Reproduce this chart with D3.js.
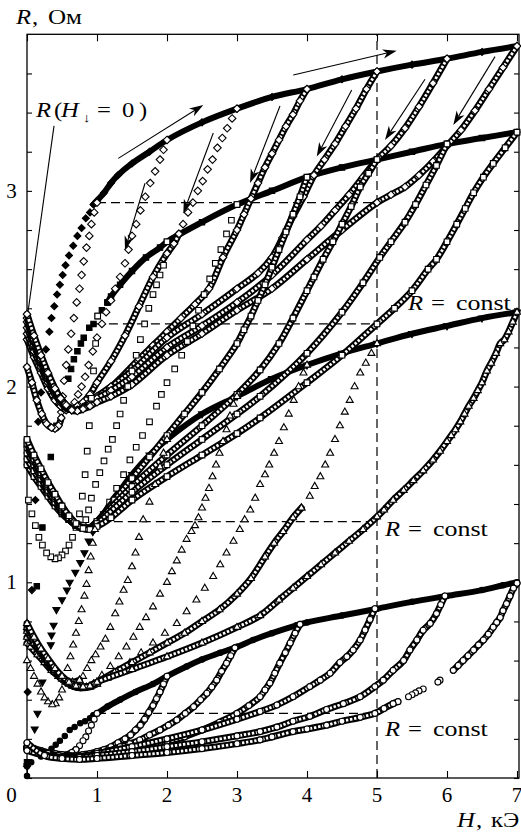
<!DOCTYPE html>
<html>
<head>
<meta charset="utf-8">
<script src="https://cdn.jsdelivr.net/npm/d3@7"></script>
<style>
html,body{margin:0;padding:0;background:#fff;}
svg{display:block;}
text{font-family:"Liberation Serif","Times New Roman",serif;fill:#000;}
</style>
</head>
<body>
<svg id="chart" width="521" height="836"></svg>
<script>
// ---------- tick labels ----------
const xTickLabels = ["0","1","2","3","4","5","6","7"];
const yTickLabels = ["1","2","3"];

// ---------- group A (diamonds) : R(H) in Ohm, H in kOe ----------
const mainA_start = [[0,0.06],[0.01,0.44],[0.07,0.96],[0.12,1.42],[0.16,1.82],[0.2,1.97],[0.27,2.19],[0.32,2.28],[0.35,2.35],[0.39,2.41],[0.43,2.47],[0.47,2.52],[0.51,2.57],[0.55,2.62],[0.6,2.67],[0.66,2.72],[0.72,2.77],[0.78,2.81],[0.84,2.86],[0.9,2.89]];
const mainA = [[0.95,2.93],[1,2.95],[1.1,2.99],[1.2,3.04],[1.3,3.08],[1.5,3.14],[1.75,3.2],[2,3.26],[2.5,3.35],[3,3.42],[3.5,3.48],[4,3.52],[4.5,3.57],[5,3.61],[5.5,3.645],[6,3.675],[6.5,3.71],[7,3.74]];
const retA1_drop = [[1,2.94],[0.96,2.89],[0.92,2.83],[0.89,2.77],[0.85,2.71],[0.81,2.64],[0.78,2.57],[0.75,2.5],[0.71,2.43],[0.67,2.35],[0.63,2.27],[0.59,2.19],[0.56,2.11],[0.53,2.03],[0.51,1.95],[0.49,1.87]];
const retA1_loop = [[0.49,1.84],[0.45,1.8],[0.4,1.785],[0.35,1.79],[0.28,1.81],[0.21,1.86],[0.14,1.93],[0.07,2.02],[0,2.1]];
const retA2_drop = [[2,3.26],[1.95,3.21],[1.9,3.16],[1.83,3.1],[1.76,3.04],[1.69,2.97],[1.62,2.9],[1.56,2.83],[1.5,2.77],[1.45,2.7],[1.4,2.63],[1.33,2.56],[1.26,2.5],[1.2,2.44],[1.13,2.38],[1.07,2.32],[1,2.25],[0.94,2.18],[0.88,2.11],[0.83,2.05],[0.78,2],[0.73,1.96],[0.68,1.92],[0.62,1.89]];
const retA2_loop = [[0.62,1.89],[0.56,1.88],[0.48,1.9],[0.4,1.93],[0.3,1.99],[0.2,2.07],[0.1,2.15],[0,2.24]];
const retA3_drop = [[3,3.42],[2.93,3.37],[2.86,3.32],[2.79,3.27],[2.72,3.22],[2.65,3.16],[2.58,3.11],[2.51,3.05],[2.44,3],[2.37,2.94],[2.3,2.89],[2.23,2.83],[2.17,2.78]];
const retA3 = [[2.17,2.78],[2.1,2.73],[2,2.68],[1.8,2.56],[1.6,2.41],[1.4,2.26],[1.2,2.13],[1,2.02],[0.9,1.96],[0.8,1.92],[0.72,1.9],[0.64,1.885],[0.56,1.89],[0.48,1.92],[0.4,1.96],[0.3,2.02],[0.2,2.1],[0.1,2.18],[0,2.27]];
const retA4 = [[4,3.52],[3.9,3.46],[3.8,3.39],[3.7,3.33],[3.6,3.26],[3.5,3.19],[3.4,3.12],[3.3,3.04],[3.2,2.96],[3.1,2.88],[3,2.8],[2.8,2.66],[2.6,2.5],[2.4,2.42],[2.2,2.35],[2,2.28],[1.8,2.21],[1.6,2.14],[1.3,2.03],[1,1.93],[0.9,1.91],[0.8,1.89],[0.72,1.88],[0.64,1.88],[0.56,1.895],[0.48,1.93],[0.4,1.97],[0.3,2.04],[0.2,2.12],[0.1,2.21],[0,2.3]];
const retA5 = [[5,3.61],[4.85,3.52],[4.7,3.42],[4.55,3.33],[4.4,3.24],[4.25,3.16],[4.1,3.08],[3.95,2.97],[3.8,2.87],[3.65,2.76],[3.5,2.66],[3.3,2.58],[3,2.5],[2.5,2.37],[2,2.25],[1.5,2.08],[1.2,2],[1,1.95],[0.9,1.92],[0.8,1.895],[0.72,1.88],[0.64,1.88],[0.56,1.9],[0.48,1.935],[0.4,1.98],[0.3,2.05],[0.2,2.13],[0.1,2.23],[0,2.33]];
const retA6 = [[6,3.675],[5.8,3.55],[5.6,3.43],[5.4,3.32],[5.2,3.23],[5,3.16],[4.8,3.07],[4.6,2.98],[4.4,2.9],[4.2,2.82],[4,2.75],[3.5,2.57],[3,2.43],[2.5,2.31],[2,2.2],[1.5,2.05],[1.2,1.98],[1,1.94],[0.9,1.91],[0.8,1.89],[0.72,1.88],[0.64,1.885],[0.56,1.905],[0.48,1.94],[0.4,1.985],[0.3,2.06],[0.2,2.14],[0.1,2.24],[0,2.35]];
const retA7 = [[7,3.74],[6.8,3.63],[6.6,3.52],[6.4,3.41],[6.2,3.31],[6,3.23],[5.8,3.15],[5.6,3.08],[5.4,3.02],[5.2,2.98],[5,2.94],[4.5,2.8],[4,2.65],[3.5,2.5],[3,2.39],[2.5,2.27],[2,2.16],[1.5,2.01],[1.2,1.95],[1,1.92],[0.9,1.9],[0.8,1.885],[0.72,1.875],[0.64,1.88],[0.56,1.905],[0.48,1.94],[0.4,1.99],[0.3,2.07],[0.2,2.16],[0.1,2.26],[0,2.37]];

// ---------- group B (squares) ----------
const mainB_start = [[0,0.08],[0.14,0.98],[0.22,1.28],[0.29,1.5],[0.34,1.64],[0.42,1.8],[0.5,1.93],[0.59,2.04],[0.63,2.09],[0.67,2.14],[0.72,2.18],[0.77,2.22],[0.81,2.25],[0.89,2.3],[0.95,2.32],[1.01,2.36],[1.07,2.39],[1.15,2.43]];
const mainB = [[1.15,2.43],[1.2,2.46],[1.33,2.52],[1.5,2.59],[1.7,2.66],[1.9,2.71],[2,2.74],[2.5,2.84],[3,2.93],[3.5,3],[4,3.07],[4.5,3.12],[5,3.16],[5.5,3.2],[6,3.24],[6.5,3.27],[7,3.3]];
const retB1 = [[1.01,2.36],[0.98,2.22],[0.95,2.08],[0.92,1.94],[0.89,1.8],[0.86,1.67],[0.83,1.55],[0.79,1.44],[0.75,1.35],[0.7,1.28],[0.65,1.23],[0.6,1.19],[0.55,1.16],[0.5,1.14],[0.45,1.125],[0.4,1.12],[0.34,1.13],[0.28,1.15],[0.22,1.19],[0.17,1.23],[0.12,1.29],[0.07,1.35],[0.02,1.42]];
const retB2_drop = [[2,2.74],[1.95,2.62],[1.9,2.57],[1.85,2.52],[1.8,2.47],[1.74,2.4],[1.68,2.32],[1.62,2.24],[1.56,2.16],[1.5,2.08],[1.44,2],[1.38,1.93],[1.33,1.86],[1.28,1.8],[1.22,1.73],[1.16,1.68],[1.1,1.62],[1.04,1.56],[0.98,1.5],[0.92,1.43],[0.88,1.37],[0.84,1.32],[0.8,1.29]];
const retB2_loop = [[0.8,1.29],[0.7,1.3],[0.6,1.32],[0.5,1.35],[0.4,1.39],[0.3,1.44],[0.2,1.49],[0.1,1.54],[0,1.6]];
const retB3_drop = [[3,2.93],[2.92,2.85],[2.85,2.78],[2.77,2.7],[2.69,2.63],[2.61,2.55],[2.53,2.47],[2.45,2.39],[2.37,2.31],[2.29,2.23],[2.21,2.16],[2.11,2.09],[2,2.02],[1.92,1.96],[1.85,1.9],[1.75,1.82],[1.65,1.75],[1.56,1.69],[1.47,1.625],[1.38,1.55],[1.28,1.48],[1.18,1.41],[1.09,1.34],[1,1.3],[0.9,1.28]];
const retB3_loop = [[0.9,1.28],[0.8,1.28],[0.7,1.295],[0.6,1.32],[0.5,1.36],[0.4,1.41],[0.3,1.46],[0.2,1.51],[0.1,1.57],[0,1.63]];
const retB4 = [[4,3.07],[3.9,2.97],[3.8,2.88],[3.7,2.79],[3.6,2.7],[3.5,2.61],[3.4,2.52],[3.3,2.44],[3.2,2.36],[3.1,2.29],[3,2.22],[2.75,2.09],[2.5,1.97],[2.25,1.86],[2,1.75],[1.75,1.64],[1.5,1.53],[1.25,1.42],[1,1.31],[0.9,1.28],[0.8,1.275],[0.7,1.29],[0.6,1.32],[0.5,1.36],[0.4,1.41],[0.3,1.47],[0.2,1.53],[0.1,1.6],[0,1.66]];
const retB5 = [[5,3.16],[4.88,3.09],[4.76,3.02],[4.63,2.92],[4.5,2.83],[4.37,2.74],[4.23,2.65],[4.1,2.56],[4,2.49],[3.8,2.35],[3.6,2.22],[3.33,2.085],[3,1.96],[2.5,1.8],[2,1.65],[1.5,1.49],[1,1.31],[0.9,1.28],[0.8,1.275],[0.7,1.29],[0.6,1.325],[0.5,1.37],[0.4,1.43],[0.3,1.49],[0.2,1.55],[0.1,1.62],[0,1.69]];
const retB6 = [[6,3.24],[5.85,3.13],[5.7,3.03],[5.55,2.93],[5.4,2.84],[5.2,2.74],[5.04,2.66],[4.8,2.53],[4.5,2.38],[4,2.17],[3.33,1.95],[3,1.86],[2.5,1.73],[2,1.6],[1.5,1.46],[1,1.3],[0.9,1.275],[0.8,1.275],[0.7,1.295],[0.6,1.33],[0.5,1.38],[0.4,1.44],[0.3,1.5],[0.2,1.56],[0.1,1.63],[0,1.71]];
const retB7 = [[7,3.3],[6.83,3.22],[6.66,3.14],[6.52,3.07],[6.38,2.99],[6.26,2.91],[6.14,2.83],[6,2.74],[5.85,2.65],[5.73,2.6],[5.5,2.49],[5.25,2.4],[5,2.32],[4.5,2.16],[4,2.02],[3.33,1.84],[3,1.76],[2.5,1.65],[2,1.54],[1.5,1.42],[1.2,1.33],[1,1.285],[0.9,1.27],[0.8,1.275],[0.7,1.3],[0.6,1.34],[0.5,1.39],[0.4,1.45],[0.3,1.51],[0.2,1.58],[0.1,1.65],[0,1.73]];

// ---------- group C (triangles) ----------
const mainC_start = [[0.005,0.06],[0.11,0.25],[0.15,0.33],[0.22,0.49],[0.34,0.68],[0.35,0.73],[0.38,0.78],[0.42,0.86],[0.5,0.91],[0.57,0.96],[0.61,1],[0.69,1.05],[0.76,1.1],[0.82,1.15],[0.88,1.21],[0.94,1.26]];
const mainC = [[0.94,1.26],[1,1.29],[1.1,1.35],[1.2,1.41],[1.33,1.47],[1.5,1.55],[1.75,1.65],[2,1.73],[2.5,1.86],[3,1.95],[3.5,2.04],[4,2.11],[4.5,2.17],[5,2.22],[5.5,2.27],[6,2.31],[6.5,2.35],[7,2.38]];
const retC1 = [[0.97,1.27],[0.94,1.2],[0.91,1.13],[0.88,1.06],[0.85,0.99],[0.82,0.93],[0.78,0.86],[0.74,0.8],[0.7,0.74],[0.66,0.68],[0.62,0.62],[0.58,0.56],[0.54,0.5],[0.5,0.45],[0.46,0.41],[0.41,0.38],[0.36,0.375],[0.3,0.39],[0.25,0.41],[0.2,0.44],[0.15,0.48],[0.1,0.52],[0.05,0.56],[0,0.6]];
const retC2_drop = [[2,1.73],[1.95,1.66],[1.9,1.59],[1.83,1.5],[1.75,1.41],[1.66,1.32],[1.6,1.23],[1.55,1.15],[1.5,1.08],[1.44,1.01],[1.38,0.96],[1.32,0.9],[1.26,0.84],[1.19,0.77],[1.12,0.71],[1.05,0.67],[0.98,0.63],[0.92,0.6],[0.86,0.56],[0.8,0.52],[0.75,0.5]];
const retC2_loop = [[0.75,0.5],[0.65,0.49],[0.55,0.5],[0.45,0.52],[0.35,0.55],[0.25,0.59],[0.15,0.63],[0.05,0.67],[0,0.69]];
const retC3_drop = [[3,1.95],[2.95,1.91],[2.9,1.85],[2.85,1.78],[2.8,1.72],[2.75,1.66],[2.7,1.6],[2.65,1.54],[2.6,1.48],[2.55,1.43],[2.5,1.38],[2.45,1.33],[2.4,1.29],[2.35,1.26],[2.28,1.22],[2.21,1.165],[2.14,1.11],[2.07,1.055],[2,1],[1.9,0.94],[1.8,0.875],[1.7,0.82],[1.61,0.77],[1.52,0.72],[1.42,0.67],[1.31,0.62],[1.19,0.57],[1.07,0.525],[0.95,0.48]];
const retC3_loop = [[0.95,0.48],[0.85,0.465],[0.75,0.46],[0.65,0.47],[0.55,0.49],[0.45,0.52],[0.35,0.56],[0.25,0.61],[0.15,0.66],[0.05,0.7],[0,0.72]];
const retC4_drop = [[4,2.11],[3.95,2.07],[3.88,2],[3.81,1.93],[3.74,1.86],[3.67,1.79],[3.6,1.72],[3.53,1.66],[3.46,1.6],[3.4,1.55],[3.33,1.5],[3.26,1.43],[3.19,1.37],[3.11,1.32],[3.04,1.27],[2.95,1.21],[2.85,1.15],[2.76,1.09],[2.66,1.03],[2.54,0.97],[2.42,0.91],[2.28,0.85],[2.14,0.79],[1.97,0.74],[1.8,0.69],[1.63,0.64],[1.47,0.59],[1.3,0.55],[1.15,0.51],[1,0.48]];
const retC4_loop = [[1,0.48],[0.9,0.465],[0.8,0.46],[0.7,0.465],[0.6,0.48],[0.5,0.505],[0.4,0.54],[0.3,0.59],[0.2,0.64],[0.1,0.69],[0,0.75]];
const retC5_drop = [[5,2.22],[4.92,2.17],[4.84,2.12],[4.76,2.07],[4.68,2],[4.61,1.93],[4.54,1.87],[4.47,1.8],[4.4,1.73],[4.33,1.66],[4.26,1.6],[4.19,1.54],[4.11,1.49],[4.04,1.44],[3.92,1.38]];
const retC5 = [[3.92,1.38],[3.8,1.33],[3.66,1.26],[3.53,1.2],[3.4,1.13],[3.2,1.02],[3,0.94],[2.75,0.86],[2.5,0.8],[2.25,0.74],[2,0.69],[1.75,0.64],[1.5,0.59],[1.25,0.54],[1,0.49],[0.9,0.47],[0.8,0.465],[0.7,0.47],[0.6,0.485],[0.5,0.51],[0.4,0.55],[0.3,0.6],[0.2,0.65],[0.1,0.71],[0,0.77]];
const retC7 = [[7,2.38],[6.94,2.33],[6.88,2.28],[6.82,2.24],[6.76,2.22],[6.7,2.17],[6.63,2.12],[6.57,2.08],[6.5,2.02],[6.44,1.98],[6.38,1.94],[6.31,1.9],[6.25,1.86],[6.19,1.82],[6.12,1.78],[6.06,1.75],[6,1.72],[5.9,1.67],[5.8,1.625],[5.66,1.57],[5.52,1.52],[5.38,1.47],[5.23,1.42],[5.1,1.37],[5,1.335],[4.8,1.27],[4.6,1.21],[4.4,1.15],[4.2,1.09],[4,1.03],[3.8,0.97],[3.6,0.91],[3.33,0.83],[3,0.77],[2.5,0.69],[2,0.62],[1.5,0.555],[1,0.49],[0.9,0.47],[0.8,0.465],[0.7,0.47],[0.6,0.49],[0.5,0.52],[0.4,0.56],[0.3,0.61],[0.2,0.66],[0.1,0.72],[0,0.79]];

// ---------- group D (circles) ----------
const mainD_start = [[0,0.01],[0,0.06],[0.06,0.08],[0.2,0.11],[0.35,0.15],[0.41,0.17],[0.47,0.19],[0.54,0.215],[0.61,0.245],[0.68,0.26],[0.76,0.28],[0.83,0.29],[0.9,0.305],[0.95,0.32]];
const mainD = [[0.95,0.32],[1,0.33],[1.15,0.365],[1.33,0.4],[1.55,0.44],[1.8,0.48],[2,0.52],[2.28,0.57],[2.5,0.605],[2.76,0.64],[3,0.67],[3.23,0.705],[3.5,0.74],[3.85,0.78],[4,0.795],[4.5,0.83],[5,0.865],[5.5,0.9],[6,0.93],[6.5,0.96],[6.8,0.985],[7,1]];
const retD1_drop = [[1,0.33],[0.96,0.3],[0.92,0.27],[0.88,0.24],[0.84,0.21],[0.8,0.19],[0.75,0.165],[0.7,0.145]];
const retD1_loop = [[0.7,0.145],[0.64,0.13],[0.58,0.12],[0.5,0.115],[0.4,0.115],[0.3,0.12],[0.2,0.13],[0.1,0.14],[0,0.15]];
const retD2 = [[2,0.52],[1.95,0.48],[1.9,0.44],[1.85,0.405],[1.8,0.37],[1.74,0.335],[1.68,0.3],[1.62,0.27],[1.55,0.245],[1.48,0.22],[1.4,0.2],[1.3,0.18],[1.2,0.16],[1.1,0.145],[1,0.135],[0.9,0.125],[0.8,0.12],[0.7,0.115],[0.6,0.115],[0.5,0.12],[0.4,0.125],[0.3,0.13],[0.2,0.14],[0.1,0.15],[0,0.16]];
const retD3 = [[2.97,0.665],[2.91,0.625],[2.85,0.586],[2.78,0.545],[2.71,0.5],[2.64,0.465],[2.57,0.433],[2.48,0.4],[2.38,0.364],[2.26,0.33],[2.14,0.296],[2.02,0.27],[1.9,0.245],[1.75,0.22],[1.61,0.194],[1.47,0.175],[1.33,0.16],[1.18,0.14],[1.04,0.126],[0.9,0.115],[0.75,0.11],[0.6,0.11],[0.45,0.115],[0.3,0.125],[0.15,0.14],[0,0.155]];
const retD4 = [[3.9,0.785],[3.83,0.74],[3.76,0.69],[3.69,0.64],[3.61,0.586],[3.54,0.535],[3.47,0.485],[3.4,0.45],[3.33,0.415],[3.17,0.37],[3,0.33],[2.75,0.285],[2.5,0.245],[2.25,0.21],[2,0.185],[1.75,0.16],[1.5,0.14],[1.25,0.125],[1,0.115],[0.75,0.105],[0.5,0.105],[0.25,0.12],[0,0.16]];
const retD5 = [[4.97,0.865],[4.9,0.81],[4.83,0.756],[4.76,0.705],[4.66,0.654],[4.57,0.62],[4.47,0.59],[4.33,0.535],[4.19,0.5],[4.04,0.467],[3.8,0.415],[3.57,0.373],[3.33,0.34],[3,0.3],[2.5,0.245],[2,0.2],[1.5,0.16],[1,0.125],[0.75,0.11],[0.5,0.105],[0.25,0.115],[0,0.15]];
const retD6 = [[5.97,0.93],[5.91,0.885],[5.85,0.84],[5.76,0.79],[5.66,0.755],[5.57,0.705],[5.47,0.654],[5.38,0.6],[5.23,0.55],[5.09,0.5],[4.97,0.467],[4.76,0.415],[4.52,0.38],[4.28,0.35],[4.04,0.315],[3.8,0.29],[3.57,0.26],[3.33,0.237],[3,0.215],[2.5,0.185],[2,0.16],[1.5,0.135],[1,0.115],[0.75,0.105],[0.5,0.105],[0.25,0.115],[0,0.14]];
const retD7_top = [[7,0.995],[6.95,0.97],[6.9,0.93],[6.85,0.89],[6.8,0.855],[6.76,0.82],[6.71,0.795],[6.66,0.77],[6.59,0.735],[6.52,0.705],[6.45,0.68],[6.38,0.654],[6.3,0.625],[6.23,0.6],[6.16,0.575],[6.09,0.55]];
const retD7_mid = [[5.9,0.5],[5.87,0.49],[5.66,0.455],[5.6,0.445],[5.55,0.435],[5.5,0.425],[5.45,0.415]];
const retD7_low = [[5.3,0.39],[5.23,0.38],[5.1,0.355],[4.97,0.33],[4.76,0.31],[4.5,0.29],[4.28,0.27],[4,0.25],[3.8,0.237],[3.5,0.21],[3.33,0.195],[3,0.175],[2.5,0.15],[2,0.13],[1.5,0.115],[1,0.1],[0.75,0.095],[0.5,0.1],[0.25,0.115],[0,0.18]];

// ---------- reference levels, arrows, label pointer (data units) ----------
const constLevels = [[1.0,2.94],[0.97,2.32],[1.04,1.31],[1.0,0.33]]; // [H start, R], run to H = 5
const constH = 5;
const sweepArrows = [
  [[1.304,3.166],[2.519,3.439]],
  [[3.804,3.592],[5.281,3.716]],
  [[1.686,3.039],[1.4,2.698]],
  [[2.661,3.296],[2.233,2.885]],
  [[3.614,3.434],[3.186,3.04]],
  [[4.639,3.516],[4.139,3.175]],
  [[5.686,3.57],[5.114,3.26]],
  [[6.686,3.686],[6.09,3.337]]
];
const pointerLine = [[0.386,3.332],[0.014,2.381]];

// ---------- layout ----------
const svg = d3.select("#chart");
const x = d3.scaleLinear().domain([0, 7]).range([27, 517]);
const y = d3.scaleLinear().domain([0, 3.8]).range([778, 34.3]);
const frameRight = 519;

const SYM = {
  dia:  "M0,-3.8L3.8,0L0,3.8L-3.8,0Z",
  diaF: "M0,-3.5L3.5,0L0,3.5L-3.5,0Z",
  sq:   "M-2.8,-2.8H2.8V2.8H-2.8Z",
  sqF:  "M-2.7,-2.7H2.7V2.7H-2.7Z",
  tri:  "M0,-4L3.5,2.1H-3.5Z",
  triD: "M0,4L3.5,-2.1H-3.5Z",
  circ: "M3,0A3,3 0 1,1 -3,0A3,3 0 1,1 3,0Z",
  circF:"M2.7,0A2.7,2.7 0 1,1 -2.7,0A2.7,2.7 0 1,1 2.7,0Z"
};

const SERIES = [
  // virgin curves (filled)
  {pts: mainA_start, sym: "diaF", fill: true},
  {pts: mainA, sym: "diaF", fill: true, rope: true},
  {pts: mainB_start, sym: "sqF", fill: true},
  {pts: mainB, sym: "sqF", fill: true, rope: true},
  {pts: mainC_start, sym: "triD", fill: true},
  {pts: mainC, sym: "triD", fill: true, rope: true},
  {pts: mainD_start, sym: "circF", fill: true},
  {pts: mainD, sym: "circF", fill: true, rope: true},
  // return branches (open)
  {pts: retA1_drop, sym: "dia"}, {pts: retA1_loop, sym: "dia", rope: true},
  {pts: retA2_drop, sym: "dia"}, {pts: retA2_loop, sym: "dia", rope: true},
  {pts: retA3_drop, sym: "dia"}, {pts: retA3, sym: "dia", rope: true},
  {pts: retA4, sym: "dia", rope: true},
  {pts: retA5, sym: "dia", rope: true},
  {pts: retA6, sym: "dia", rope: true},
  {pts: retA7, sym: "dia", rope: true},
  {pts: retB1, sym: "sq"},
  {pts: retB2_drop, sym: "sq"}, {pts: retB2_loop, sym: "sq", rope: true},
  {pts: retB3_drop, sym: "sq"}, {pts: retB3_loop, sym: "sq", rope: true},
  {pts: retB4, sym: "sq", rope: true},
  {pts: retB5, sym: "sq", rope: true},
  {pts: retB6, sym: "sq", rope: true},
  {pts: retB7, sym: "sq", rope: true},
  {pts: retC1, sym: "tri"},
  {pts: retC2_drop, sym: "tri"}, {pts: retC2_loop, sym: "tri", rope: true},
  {pts: retC3_drop, sym: "tri"}, {pts: retC3_loop, sym: "tri", rope: true},
  {pts: retC4_drop, sym: "tri"}, {pts: retC4_loop, sym: "tri", rope: true},
  {pts: retC5_drop, sym: "tri"}, {pts: retC5, sym: "tri", rope: true},
  {pts: retC7, sym: "tri", rope: true},
  {pts: retD1_drop, sym: "circ"}, {pts: retD1_loop, sym: "circ", rope: true},
  {pts: retD2, sym: "circ", rope: true},
  {pts: retD3, sym: "circ", rope: true},
  {pts: retD4, sym: "circ", rope: true},
  {pts: retD5, sym: "circ", rope: true},
  {pts: retD6, sym: "circ", rope: true},
  {pts: retD7_top, sym: "circ", rope: true},
  {pts: retD7_mid, sym: "circ"},
  {pts: retD7_low, sym: "circ", rope: true}
];

// ---------- frame & ticks ----------
const xt = d3.range(0, 8);
const yt = d3.range(0, 19).map(i => i * 0.2);

svg.append("g").attr("transform", "translate(0,778)")
  .call(d3.axisBottom(x).tickValues(xt).tickSize(-7).tickFormat(""))
  .call(g => g.select(".domain").remove());
svg.append("g").attr("transform", "translate(0,34.3)")
  .call(d3.axisTop(x).tickValues(xt).tickSize(-7).tickFormat(""))
  .call(g => g.select(".domain").remove());
svg.append("g").attr("transform", "translate(27,0)")
  .call(d3.axisLeft(y).tickValues(yt).tickSize(-5).tickFormat(""))
  .call(g => g.select(".domain").remove());
svg.append("g").attr("transform", `translate(${frameRight},0)`)
  .call(d3.axisRight(y).tickValues(yt).tickSize(-5).tickFormat(""))
  .call(g => g.select(".domain").remove());
svg.selectAll(".tick line").attr("stroke", "#000").attr("stroke-width", 1.1);

svg.append("rect").attr("x", 27).attr("y", 34.3)
  .attr("width", frameRight - 27).attr("height", 778 - 34.3)
  .attr("fill", "none").attr("stroke", "#000").attr("stroke-width", 1.3);

// ---------- dashed reference lines ----------
const gDash = svg.append("g").attr("stroke", "#000").attr("stroke-width", 1.2)
  .attr("stroke-dasharray", "9 5").attr("fill", "none");
gDash.selectAll("line.h").data(constLevels).join("line").attr("class", "h")
  .attr("x1", d => x(d[0])).attr("x2", x(constH))
  .attr("y1", d => y(d[1])).attr("y2", d => y(d[1]));
gDash.append("line").attr("x1", x(constH)).attr("x2", x(constH))
  .attr("y1", y(0)).attr("y2", y(3.8));

// ---------- curves ----------
const curve = d3.line().x(d => x(d[0])).y(d => y(d[1])).curve(d3.curveCatmullRom.alpha(0.5));
const gCurves = svg.append("g");
SERIES.forEach(s => {
  const g = gCurves.append("g");
  if (s.rope) {
    if (s.fill) {
      g.append("path").attr("d", curve(s.pts)).attr("fill", "none")
        .attr("stroke", "#000").attr("stroke-width", 6).attr("stroke-linecap", "round");
    } else {
      g.append("path").attr("d", curve(s.pts)).attr("fill", "none")
        .attr("stroke", "#000").attr("stroke-width", 6.8).attr("stroke-linecap", "round");
      g.append("path").attr("d", curve(s.pts)).attr("fill", "none")
        .attr("stroke", "#fff").attr("stroke-width", 2.8).attr("stroke-dasharray", "2.4 1.7");
    }
  }
  g.selectAll("path.m").data(s.pts).join("path").attr("class", "m")
    .attr("d", SYM[s.sym])
    .attr("transform", d => `translate(${x(d[0])},${y(d[1])})`)
    .attr("fill", s.fill ? "#000" : "#fff")
    .attr("stroke", "#000").attr("stroke-width", 1.1);
});

// ---------- arrows ----------
const gArr = svg.append("g");
sweepArrows.forEach(([a, b]) => {
  const x1 = x(a[0]), y1 = y(a[1]), x2 = x(b[0]), y2 = y(b[1]);
  const ang = Math.atan2(y2 - y1, x2 - x1);
  const L = 14;
  gArr.append("line").attr("x1", x1).attr("y1", y1)
    .attr("x2", x2 - Math.cos(ang) * (L - 4)).attr("y2", y2 - Math.sin(ang) * (L - 4))
    .attr("stroke", "#000").attr("stroke-width", 1.1);
  gArr.append("path").attr("d", `M0,0L${-L},-4.6L${-L + 4},0L${-L},4.6Z`)
    .attr("transform", `translate(${x2},${y2}) rotate(${ang * 180 / Math.PI})`)
    .attr("fill", "#000");
});
svg.append("line")
  .attr("x1", x(pointerLine[0][0])).attr("y1", y(pointerLine[0][1]))
  .attr("x2", x(pointerLine[1][0])).attr("y2", y(pointerLine[1][1]))
  .attr("stroke", "#000").attr("stroke-width", 1.1);

// ---------- text ----------
const FS = 21;
svg.selectAll("text.xl").data(xTickLabels).join("text").attr("class", "xl")
  .attr("x", (d, i) => i === 0 ? 11.5 : x(i)).attr("y", 802)
  .attr("text-anchor", "middle").attr("font-size", FS).text(d => d);
svg.selectAll("text.yl").data(yTickLabels).join("text").attr("class", "yl")
  .attr("x", 11.5).attr("y", d => y(+d) + 7)
  .attr("text-anchor", "middle").attr("font-size", FS).text(d => d);

// formula pieces are set one by one (TeX-like spacing, slightly wide glyphs)
function formula(x0, yb, fs, pieces) {
  const g = svg.append("g");
  pieces.forEach(p => {
    const t = g.append("text")
      .attr("transform", `translate(${x0 + p.dx},${yb + (p.dy || 0)}) scale(${p.sx || 1.12},1)`)
      .attr("font-size", p.fs || fs).text(p.t);
    if (p.i) t.attr("font-style", "italic");
  });
}
formula(16, 24, 22, [{t: "R", i: true, dx: 0}, {t: ",", dx: 16}, {t: "Ом", dx: 32, sx: 1.14}]);
formula(457, 827, 22, [{t: "H", i: true, dx: 0}, {t: ",", dx: 19}, {t: "кЭ", dx: 34}]);
formula(36, 117, 22, [
  {t: "R", i: true, dx: 0}, {t: "(", dx: 18}, {t: "H", i: true, dx: 25},
  {t: "↓", dx: 47, fs: 13, dy: 5}, {t: "=", dx: 61}, {t: "0", dx: 86}, {t: ")", dx: 103}
]);
[[408, 310], [385, 536], [385, 736]].forEach(p =>
  formula(p[0], p[1], 22, [{t: "R", i: true, dx: 0}, {t: "=", dx: 23}, {t: "const", dx: 48, sx: 1.18}]));
</script>
</body>
</html>
